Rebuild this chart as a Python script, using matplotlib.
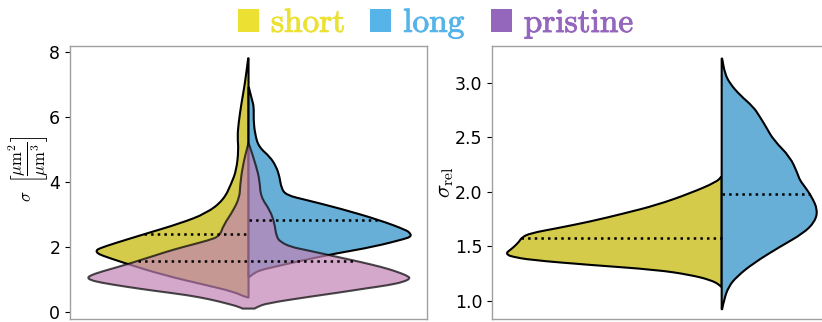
import matplotlib.pyplot as plt
import matplotlib.patheffects as pe
import numpy as np
from matplotlib.patches import Patch, PathPatch
from matplotlib.path import Path

plt.rcParams['mathtext.fontset'] = 'cm'

# sigma: violin outlines as (level, half width) pairs
short_y = [0.44, 0.46, 0.62, 0.82, 1.13, 1.51, 1.74, 1.80, 1.85, 1.90, 1.95, 2.10, 2.41,
           2.72, 3.03, 3.44, 3.95, 4.36, 4.98, 5.38, 5.80, 6.41, 7.03, 7.80]
short_w = [0.0, 0.010, 0.042, 0.118, 0.238, 0.350, 0.412, 0.422, 0.426, 0.425, 0.418, 0.378, 0.286,
           0.192, 0.118, 0.070, 0.048, 0.034, 0.028, 0.031, 0.028, 0.020, 0.010, 0.001]

long_y = [1.08, 1.18, 1.28, 1.38, 1.59, 1.80, 2.00, 2.26, 2.31, 2.36, 2.42, 2.51, 2.82, 3.18,
          3.44, 3.59, 3.80, 4.15, 4.46, 4.77, 5.08, 5.49, 5.90, 6.31, 6.51, 6.90]
long_w = [0.003, 0.014, 0.032, 0.070, 0.154, 0.246, 0.350, 0.443, 0.452, 0.455, 0.452, 0.443, 0.368,
          0.256, 0.162, 0.106, 0.092, 0.087, 0.078, 0.060, 0.028, 0.018, 0.014, 0.015, 0.010, 0.001]

pristine_left_y = [0.10, 0.15, 0.26, 0.38, 0.51, 0.65, 0.77, 0.90, 0.98, 1.05, 1.12, 1.23,
                   1.49, 1.85, 2.00, 2.20, 2.33, 2.67, 3.13, 3.54, 3.85, 4.46, 5.18]
pristine_left_w = [0.017, 0.025, 0.062, 0.106, 0.168, 0.266, 0.342, 0.415, 0.443, 0.451, 0.443, 0.415,
                   0.331, 0.230, 0.182, 0.112, 0.081, 0.070, 0.042, 0.025, 0.024, 0.017, 0.001]
pristine_right_y = [0.10, 0.15, 0.26, 0.46, 0.60, 0.72, 0.82, 0.92, 1.03, 1.12, 1.25, 1.38,
                    1.55, 1.74, 1.90, 2.00, 2.15, 2.31, 2.72, 3.13, 3.54, 4.05, 4.46, 5.18]
pristine_right_w = [0.017, 0.025, 0.050, 0.168, 0.258, 0.328, 0.392, 0.434, 0.454, 0.443, 0.412, 0.373,
                    0.308, 0.228, 0.162, 0.118, 0.090, 0.078, 0.073, 0.060, 0.034, 0.031, 0.022, 0.001]

short_median, long_median, pristine_median = 2.39, 2.83, 1.57

# relative sigma
rel_short_y = [1.128, 1.144, 1.19, 1.236, 1.282, 1.327, 1.373, 1.404, 1.42, 1.44, 1.46, 1.49, 1.54,
               1.58, 1.618, 1.664, 1.725, 1.80, 1.878, 1.985, 2.09, 2.138]
rel_short_w = [0.002, 0.004, 0.025, 0.069, 0.141, 0.287, 0.417, 0.457, 0.466, 0.468, 0.462, 0.453, 0.441,
               0.435, 0.417, 0.359, 0.287, 0.213, 0.141, 0.069, 0.011, 0.001]
rel_long_y = [0.92, 1.006, 1.128, 1.22, 1.343, 1.495, 1.618, 1.725, 1.832, 1.954, 2.046, 2.107,
              2.169, 2.32, 2.474, 2.60, 2.69, 2.78, 2.887, 2.994, 3.086, 3.224]
rel_long_w = [0.001, 0.005, 0.015, 0.033, 0.069, 0.127, 0.178, 0.203, 0.209, 0.196, 0.181, 0.170,
              0.165, 0.149, 0.113, 0.096, 0.083, 0.069, 0.040, 0.018, 0.007, 0.001]

rel_short_median, rel_long_median = 1.573, 1.979

short_color = '#ece133'
long_color = '#56b4e9'
pristine_color = '#9467bd'
short_fill = '#d5cb4a'
long_fill = '#68afd7'
pristine_fill = (193 / 255, 131 / 255, 181 / 255, 0.7)


def smooth_outline(pts):
    # quadratic bezier through the midpoints, the given points act as control points
    verts = [pts[0]]
    codes = [Path.MOVETO]
    for i in range(1, len(pts) - 1):
        mid = ((pts[i][0] + pts[i + 1][0]) / 2, (pts[i][1] + pts[i + 1][1]) / 2)
        verts += [pts[i], mid]
        codes += [Path.CURVE3, Path.CURVE3]
    verts.append(pts[-1])
    codes.append(Path.LINETO)
    return verts, codes


def half_violin(ax, y, w, side, color):
    pts = [(side * wi, yi) for yi, wi in zip(y, w)]
    verts, codes = smooth_outline(pts)
    verts += [(0, y[-1]), (0, y[0]), (0, y[0])]
    codes += [Path.LINETO, Path.LINETO, Path.CLOSEPOLY]
    ax.add_patch(PathPatch(Path(verts, codes), facecolor=color, edgecolor='black',
                           lw=1.5, joinstyle='round', zorder=2))


def median_line(ax, m, x0, x1):
    ax.plot([x0, x1], [m, m], ls=':', color='black', lw=1.8, zorder=5)


def style_axes(ax):
    ax.set_xlim(-0.5, 0.5)
    ax.set_xticks([])
    for s in ax.spines.values():
        s.set_color('#a0a0a0')
        s.set_linewidth(1.0)
    ax.tick_params(axis='y', labelsize=12.5, length=3.5)


fig = plt.figure(figsize=(8.22, 3.22), dpi=100)

ax1 = fig.add_axes([0.0852, 0.0093, 0.4343, 0.848])
half_violin(ax1, short_y, short_w, -1, short_fill)
half_violin(ax1, long_y, long_w, 1, long_fill)

# pristine drawn over both halves, translucent
p_pts = [(-wi, yi) for yi, wi in zip(pristine_left_y, pristine_left_w)]
p_pts += [(wi, yi) for yi, wi in zip(pristine_right_y[::-1], pristine_right_w[::-1])]
p_verts, p_codes = smooth_outline(p_pts)
p_verts.append(p_pts[0])
p_codes.append(Path.CLOSEPOLY)
ax1.add_patch(PathPatch(Path(p_verts, p_codes), facecolor=pristine_fill,
                        edgecolor=(0, 0, 0, 0.7), lw=1.5, joinstyle='round', zorder=3))

median_line(ax1, short_median, -np.interp(short_median, short_y, short_w), 0)
median_line(ax1, long_median, 0, np.interp(long_median, long_y, long_w))
median_line(ax1, pristine_median,
            -np.interp(pristine_median, pristine_left_y, pristine_left_w),
            np.interp(pristine_median, pristine_right_y, pristine_right_w))

style_axes(ax1)
ax1.set_ylim(-0.22, 8.18)
ax1.set_yticks([0, 2, 4, 6, 8])
ax1.set_ylabel(r'$\sigma\ \ \left[\dfrac{\mu\mathrm{m}^2}{\mu\mathrm{m}^3}\right]$', fontsize=12)
ax1.yaxis.set_label_coords(-0.054, 0.55)

ax2 = fig.add_axes([0.5985, 0.0093, 0.5589, 0.848])
half_violin(ax2, rel_short_y, rel_short_w, -1, short_fill)
half_violin(ax2, rel_long_y, rel_long_w, 1, long_fill)
median_line(ax2, rel_short_median, -np.interp(rel_short_median, rel_short_y, rel_short_w), 0)
median_line(ax2, rel_long_median, 0, np.interp(rel_long_median, rel_long_y, rel_long_w))

style_axes(ax2)
ax2.set_ylim(0.83, 3.34)
ax2.set_yticks([1.0, 1.5, 2.0, 2.5, 3.0])
ax2.set_ylabel(r'$\sigma_{\mathrm{rel}}$', fontsize=16, labelpad=-1)

handles = [Patch(facecolor=c, edgecolor='none') for c in (short_color, long_color, pristine_color)]
labels = [r'$\mathrm{short}$', r'$\mathrm{long}$', r'$\mathrm{pristine}$']
leg = fig.legend(handles, labels, loc='upper center', bbox_to_anchor=(436 / 822, 1.0435), ncol=3,
                 frameon=False, fontsize=24, handlelength=0.63, handleheight=0.7,
                 handletextpad=0.36, columnspacing=0.75, borderpad=0.1)
for t, c in zip(leg.get_texts(), (short_color, long_color, pristine_color)):
    t.set_color(c)
    t.set_path_effects([pe.withStroke(linewidth=0.7, foreground=c)])

fig.savefig('out.png', dpi=100)
